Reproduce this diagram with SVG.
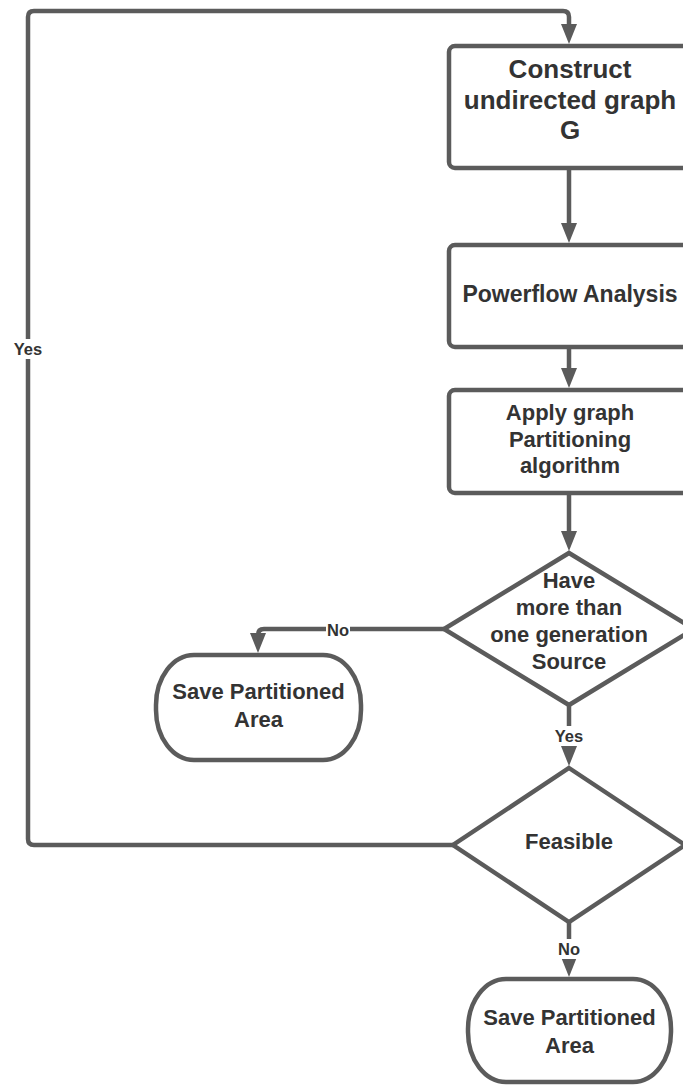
<svg xmlns="http://www.w3.org/2000/svg" width="683" height="1085" viewBox="0 0 683 1085">
<style>
.shape{fill:#ffffff;stroke:#5b5b5b;stroke-width:4.5}
.conn{fill:none;stroke:#5b5b5b;stroke-width:4.5}
.t{font-family:"Liberation Sans",Arial,sans-serif;font-weight:bold;fill:#333333;text-anchor:middle}
.big{font-size:26px}
.mid{font-size:22px}
.pf{font-size:23px}
.lbl{font-size:16.5px}
.bg{fill:#ffffff}
</style>
<defs>
<marker id="arr" viewBox="0 0 20 16" refX="12" refY="8" markerWidth="20" markerHeight="16" markerUnits="userSpaceOnUse" orient="auto">
<path d="M0,0 L20,8 L0,16 z" fill="#5b5b5b"/>
</marker>
</defs>
<rect width="683" height="1085" fill="#ffffff"/>
<g id="connectors">
<path class="conn" d="M453,845 H34 Q28,845 28,839 V17 Q28,11 34,11 H563 Q569,11 569,17 V36" marker-end="url(#arr)"/>
<path class="conn" d="M569,168 V235" marker-end="url(#arr)"/>
<path class="conn" d="M569,347 V380" marker-end="url(#arr)"/>
<path class="conn" d="M569,493 V543" marker-end="url(#arr)"/>
<path class="conn" d="M444,629 H264 Q258,629 258,635 V645" marker-end="url(#arr)"/>
<path class="conn" d="M569,705 V758" marker-end="url(#arr)"/>
<path class="conn" d="M569,922 V969" marker-end="url(#arr)"/>
<rect class="bg" x="12" y="339" width="32" height="20"/>
<text class="t lbl" x="28" y="355">Yes</text>
<rect class="bg" x="326" y="620" width="24" height="20"/>
<text class="t lbl" x="338" y="636">No</text>
<rect class="bg" x="553" y="726" width="32" height="20"/>
<text class="t lbl" x="569" y="742">Yes</text>
<rect class="bg" x="557" y="939" width="24" height="20"/>
<text class="t lbl" x="569" y="955">No</text>
</g>
<g id="construct">
<rect class="shape" x="449" y="46" width="242" height="122" rx="6"/>
<text class="t big" x="570" y="78">Construct</text>
<text class="t big" x="570" y="109">undirected graph</text>
<text class="t big" x="570" y="139">G</text>
</g>
<g id="powerflow">
<rect class="shape" x="449" y="245" width="242" height="102" rx="6"/>
<text class="t pf" x="570" y="302">Powerflow Analysis</text>
</g>
<g id="partition">
<rect class="shape" x="449" y="390" width="242" height="103" rx="6"/>
<text class="t mid" x="570" y="420">Apply graph</text>
<text class="t mid" x="570" y="447">Partitioning</text>
<text class="t mid" x="570" y="473">algorithm</text>
</g>
<g id="decision-source">
<polygon class="shape" points="569,553 694,629 569,705 444,629"/>
<text class="t mid" x="569" y="588">Have</text>
<text class="t mid" x="569" y="615">more than</text>
<text class="t mid" x="569" y="642">one generation</text>
<text class="t mid" x="569" y="669">Source</text>
</g>
<g id="save-left">
<rect class="shape" x="156" y="655" width="205" height="105" rx="38" ry="50"/>
<text class="t mid" x="258.5" y="699">Save Partitioned</text>
<text class="t mid" x="258.5" y="727">Area</text>
</g>
<g id="decision-feasible">
<polygon class="shape" points="569,768 685,845 569,922 453,845"/>
<text class="t mid" x="569" y="849">Feasible</text>
</g>
<g id="save-bottom">
<rect class="shape" x="468" y="979" width="203" height="103" rx="38" ry="50"/>
<text class="t mid" x="569.5" y="1025">Save Partitioned</text>
<text class="t mid" x="569.5" y="1053">Area</text>
</g>
</svg>
